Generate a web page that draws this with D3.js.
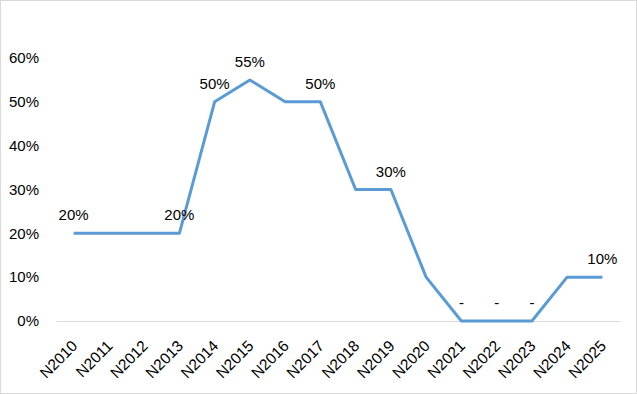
<!DOCTYPE html>
<html>
<head>
<meta charset="utf-8">
<script src="https://cdn.jsdelivr.net/npm/d3@7"></script>
<style>
  body { margin: 0; background: #fff; }
  text { font-family: "Liberation Sans", Arial, sans-serif; fill: #000; }
</style>
</head>
<body>
<svg id="chart" width="637" height="394"></svg>
<script>
var categories = ["N2010","N2011","N2012","N2013","N2014","N2015","N2016","N2017",
                  "N2018","N2019","N2020","N2021","N2022","N2023","N2024","N2025"];
var values = [20, 20, 20, 20, 50, 55, 50, 50, 30, 30, 10, 0, 0, 0, 10, 10];
// which points carry a data label
var labelled = [true, false, false, true, true, true, false, true,
                false, true, false, true, true, true, false, true];
var yTicks = [0, 10, 20, 30, 40, 50, 60];

var svg = d3.select("#chart"),
    margin = {top: 58, right: 17, bottom: 73, left: 56},
    width = +svg.attr("width"),
    height = +svg.attr("height"),
    w = width - margin.left - margin.right,
    h = height - margin.top - margin.bottom;

svg.append("rect")
    .attr("x", 0.5).attr("y", 0.5)
    .attr("width", width - 1).attr("height", height - 1)
    .attr("fill", "#fff").attr("stroke", "#d9d9d9");

var x = d3.scaleBand().domain(categories).range([0, w]);
var y = d3.scaleLinear().domain([0, 60]).range([h, 0]);

var g = svg.append("g")
    .attr("transform", "translate(" + margin.left + "," + margin.top + ")");

// x axis
var xa = g.append("g")
    .attr("transform", "translate(0," + h + ")")
    .call(d3.axisBottom(x).tickSize(0).tickPadding(0));
xa.select(".domain").attr("stroke", "#d9d9d9").attr("stroke-width", 1);
xa.selectAll(".tick text")
    .attr("font-size", 15.5)
    .attr("text-anchor", "end")
    .attr("dy", "0.35em")
    .attr("transform", "translate(1,22) rotate(-45)");

// y axis
var ya = g.append("g")
    .call(d3.axisLeft(y).tickValues(yTicks).tickSize(0).tickPadding(17)
      .tickFormat(function(d) { return d + "%"; }));
ya.select(".domain").remove();
ya.selectAll(".tick text").attr("font-size", 15);

var cx = function(d, i) { return x(categories[i]) + x.bandwidth() / 2; };

g.append("path")
    .datum(values)
    .attr("fill", "none")
    .attr("stroke", "#5b9bd5")
    .attr("stroke-width", 3)
    .attr("stroke-linejoin", "round")
    .attr("d", d3.line().x(cx).y(function(d) { return y(d); }));

// data labels
values.forEach(function(d, i) {
  if (!labelled[i]) return;
  g.append("text")
      .attr("class", "lbl")
      .attr("font-size", 15)
      .attr("text-anchor", "middle")
      .attr("x", cx(d, i))
      .attr("y", y(d) - 13)
      .text(d === 0 ? "-" : d + "%");
});
</script>
</body>
</html>
